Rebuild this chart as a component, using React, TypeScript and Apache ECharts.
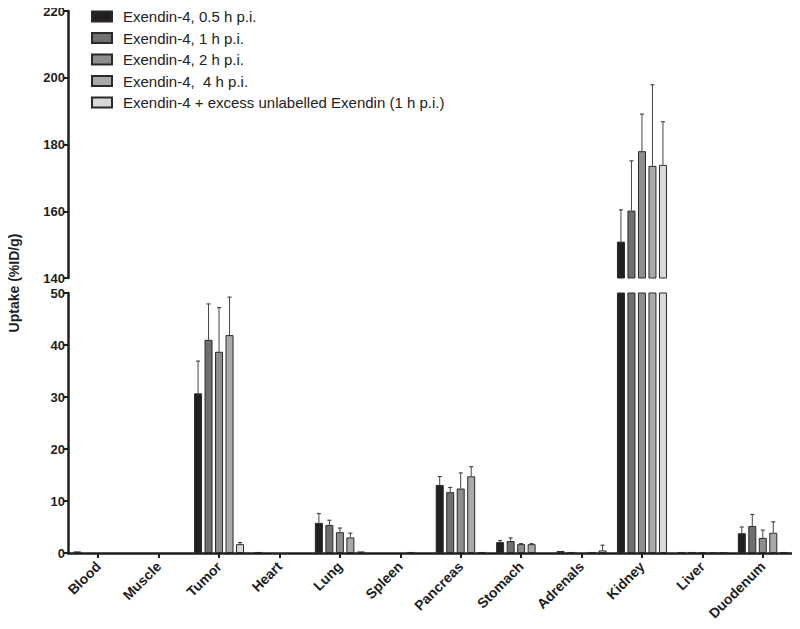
import React, { useEffect, useRef } from "react";
import * as echarts from "echarts";

const categories = ["Blood", "Muscle", "Tumor", "Heart", "Lung", "Spleen", "Pancreas", "Stomach", "Adrenals", "Kidney", "Liver", "Duodenum"];
const seriesNames = [
  "Exendin-4, 0.5 h p.i.",
  "Exendin-4, 1 h p.i.",
  "Exendin-4, 2 h p.i.",
  "Exendin-4,  4 h p.i.",
  "Exendin-4 + excess unlabelled Exendin (1 h p.i.)",
];
const colors = ["#231f20", "#6f6f6f", "#8e8e8e", "#a9a9a9", "#d9d9d9"];

const h05 = [0.3, null, 30.7, 0.2, 5.8, null, 13.1, 2.1, 0.4, 150.9, 0.2, 3.8];
const h05Err = [null, null, 6.2, null, 1.8, null, 1.6, 0.3, null, 9.5, null, 1.2];
const h1 = [null, null, 41.0, null, 5.4, null, 11.7, 2.3, 0.2, 160.2, 0.2, 5.2];
const h1Err = [null, null, 6.9, null, 0.9, null, 0.9, 0.6, null, 14.9, null, 2.2];
const h2 = [null, null, 38.7, null, 4.0, null, 12.4, 1.7, null, 178.0, 0.1, 2.9];
const h2Err = [null, null, 8.5, null, 0.8, null, 3.0, 0.1, null, 11.1, null, 1.5];
const h4 = [null, null, 41.9, null, 3.0, 0.2, 14.75, 1.7, 0.2, 173.6, 0.1, 3.9];
const h4Err = [null, null, 7.3, null, 0.8, null, 1.85, 0.1, null, 24.3, null, 2.1];
const blk = [null, null, 1.7, null, 0.3, null, 0.2, null, 0.5, 173.9, 0.1, 0.2];
const blkErr = [null, null, 0.3, null, null, null, null, null, 1.0, 12.9, null, null];

const values = [h05, h1, h2, h4, blk];
const errors = [h05Err, h1Err, h2Err, h4Err, blkErr];

const upperTicks = { min: 140, max: 220, interval: 20 };
const lowerTicks = { min: 0, max: 50, interval: 10 };

const FONT = "'Liberation Sans', Arial, Helvetica, sans-serif";
const BAR_W = 8;
const BAR_GAP = 2.5;

export default function App() {
  const ref = useRef<HTMLDivElement>(null);
  useEffect(() => {
    if (!ref.current) return;
    const chart = echarts.init(ref.current, undefined, { renderer: "svg" });

    const series: any[] = [];
    [0, 1].forEach((g) => {
      const lo = g === 0 ? upperTicks.min : lowerTicks.min;
      const hi = g === 0 ? upperTicks.max : lowerTicks.max;
      values.forEach((vals, i) => {
        series.push({
          type: "bar",
          name: seriesNames[i],
          xAxisIndex: g,
          yAxisIndex: g,
          barWidth: BAR_W,
          barGap: (BAR_GAP / BAR_W) * 100 + "%",
          clip: true,
          data: vals.map((v) => (v == null ? null : g === 0 && v < lo ? null : v)),
          itemStyle: { color: colors[i], borderColor: "#2a2a2a", borderWidth: 1 },
        });
      });
      values.forEach((vals, i) => {
        const offset = (i - 2) * (BAR_W + BAR_GAP);
        const data: any[] = [];
        vals.forEach((v, c) => {
          const e = errors[i][c];
          if (v == null || e == null) return;
          if (v < lo || v > hi) return;
          data.push([c, v, e]);
        });
        series.push({
          type: "custom",
          name: "err" + g + "_" + i,
          xAxisIndex: g,
          yAxisIndex: g,
          clip: true,
          silent: true,
          z: 3,
          data,
          renderItem: (params: any, api: any) => {
            const c = api.value(0);
            const v = api.value(1);
            const e = api.value(2);
            const p0 = api.coord([c, v]);
            const p1 = api.coord([c, v + e]);
            const x = p0[0] + offset;
            return {
              type: "group",
              children: [
                { type: "line", shape: { x1: x, y1: p0[1], x2: x, y2: p1[1] }, style: { stroke: "#444", lineWidth: 1 } },
                { type: "line", shape: { x1: x - 2, y1: p1[1], x2: x + 2, y2: p1[1] }, style: { stroke: "#444", lineWidth: 1.2 } },
              ],
            };
          },
        });
      });
    });

    const yAxisCommon = {
      type: "value",
      splitLine: { show: false },
      axisLine: { show: true, lineStyle: { color: "#1e1e1e", width: 2.5 } },
      axisTick: { show: true, length: 5, lineStyle: { color: "#1e1e1e", width: 2 } },
      axisLabel: { color: "#1e1e1e", fontSize: 13, fontWeight: "bold", fontFamily: FONT, margin: 3 },
    };

    chart.setOption({
      animation: false,
      grid: [
        { left: 68, top: 11, width: 725, height: 267 },
        { left: 68, top: 293, width: 725, height: 260 },
      ],
      legend: {
        data: seriesNames.map((n) => ({ name: n, icon: "rect" })),
        orient: "vertical",
        left: 91,
        top: 9,
        padding: 0,
        itemWidth: 20,
        itemHeight: 10,
        itemGap: 6.5,
        selectedMode: false,
        textStyle: { fontSize: 15, color: "#222", fontFamily: FONT, padding: [0, 0, 0, 6] },
      },
      xAxis: [
        { type: "category", gridIndex: 0, data: categories, show: false },
        {
          type: "category",
          gridIndex: 1,
          data: categories,
          axisLine: { show: true, lineStyle: { color: "#1e1e1e", width: 2.5 } },
          axisTick: { show: true, alignWithLabel: true, interval: 0, length: 5, lineStyle: { color: "#1e1e1e", width: 2 } },
          axisLabel: { interval: 0, rotate: 45, color: "#1e1e1e", fontSize: 14, fontWeight: "bold", fontFamily: FONT, margin: 11 },
        },
      ],
      yAxis: [
        { ...yAxisCommon, gridIndex: 0, min: upperTicks.min, max: upperTicks.max, interval: upperTicks.interval },
        { ...yAxisCommon, gridIndex: 1, min: lowerTicks.min, max: lowerTicks.max, interval: lowerTicks.interval },
      ],
      graphic: [
        {
          type: "text",
          x: 14,
          y: 283,
          rotation: Math.PI / 2,
          style: {
            text: "Uptake (%ID/g)",
            fontSize: 14,
            fontWeight: "bold",
            fontFamily: FONT,
            fill: "#1e1e1e",
            align: "center",
            verticalAlign: "middle",
          },
        },
      ],
      series,
    });
    return () => chart.dispose();
  }, []);
  return <div ref={ref} style={{ width: 800, height: 629, marginLeft: -8, marginTop: -8 }} />;
}
